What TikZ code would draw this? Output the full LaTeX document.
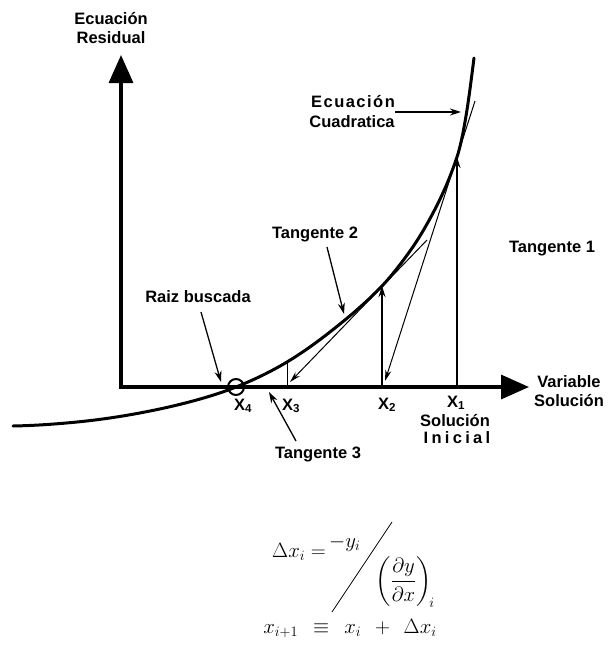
\documentclass[tikz,border=0pt]{standalone}
\usepackage{amsmath}
\usepackage{fontspec}
\newfontfamily\lblfamily{Liberation Sans}
\usetikzlibrary{arrows.meta}
\tikzset{
  lbl/.style={font=\lblfamily\bfseries\fontsize{16.5}{19}\selectfont, inner sep=0pt, anchor=base},
  spaced/.style={font=\lblfamily\bfseries\fontsize{16.5}{19}\selectfont\addfontfeature{LetterSpace=#1}},
  axis/.style={line width=3.2pt, line join=miter, {Triangle[length=28pt,width=24pt]}-{Triangle[length=28pt,width=24pt]}},
  curve/.style={line width=3pt, line cap=round},
  la/.style={line width=1.3pt, -{Stealth[length=11pt,width=7pt]}},
  tan/.style={line width=1pt, -{Stealth[length=11pt,width=6pt]}},
  up/.style={line width=1.3pt, -{Stealth[length=11pt,width=7pt]}},
  fml/.style={font=\fontsize{20.74}{25}\selectfont, inner sep=0pt},
}
\begin{document}
\begin{tikzpicture}[x=1pt,y=-1pt]
\useasboundingbox (0,0) rectangle (608,656);
% key points
\coordinate (O) at (121,387);
\coordinate (ytip) at (121,55);
\coordinate (xtip) at (529,387);
\coordinate (x1) at (457,387);
\coordinate (x2) at (382,387);
\coordinate (x3) at (287,387);
\coordinate (x4) at (236,387);
\coordinate (p1) at (457,157);
\coordinate (p2) at (382,286);
\coordinate (p3) at (287,362);
\coordinate (t1a) at (475,101);
\coordinate (t1b) at (385,381);
\coordinate (t2a) at (427,240);
\coordinate (t2b) at (290,382);
% axes
\draw[axis] (ytip) -- (O) -- (xtip);
% curve
\draw[curve] (13,426)
  .. controls (34.3,425.6) and (55.7,424.1) .. (77,422)
  .. controls (101.3,419.6) and (125.7,415.9) .. (150,411)
  .. controls (169,407.2) and (188,402.7) .. (207,397)
  .. controls (216.7,394.1) and (226.3,390.9) .. (236,387)
  .. controls (253,380.2) and (270,372.2) .. (287,362)
  .. controls (303,352.4) and (319,340.8) .. (335,328)
  .. controls (350.7,315.5) and (366.3,302.4) .. (382,286)
  .. controls (391.3,276.2) and (400.7,264.1) .. (410,251)
  .. controls (417.7,240.3) and (425.3,227.6) .. (433,213)
  .. controls (441,197.8) and (449,181) .. (457,157)
  .. controls (460,148) and (463,134) .. (466,116)
  .. controls (468.7,100) and (471.3,79.3) .. (474,58);
% root circle
\node[draw, circle, line width=2pt, minimum size=16pt, inner sep=0pt] (root) at (x4) {};
% newton steps
\draw[up] (x1) -- (p1);
\draw[tan] (t1a) -- (t1b);
\draw[up] (x2) -- (p2);
\draw[tan] (t2a) -- (t2b);
\draw[line width=1pt] (x3) -- (p3);
% labels
\node[lbl] (er1) at (111,24) {Ecuación};
\node[lbl] (er2) at (111,43) {Residual};
\node[lbl, spaced=9] (eq1) at (353,107) {Ecuación};
\node[lbl] (eq2) at (352,127) {Cuadratica};
\coordinate (eqtip) at (461,112);
\draw[la] (eq1.east |- eqtip) -- (eqtip);
\node[lbl] (t2) at (315,238) {Tangente 2};
\coordinate (t2tip) at (344,314);
\draw[la] ([xshift=12pt,yshift=-9pt]t2.base) -- (t2tip);
\node[lbl] (t1) at (552,252) {Tangente 1};
\node[lbl] (rb) at (198,302) {Raiz buscada};
\coordinate (rbtip) at (221,382);
\draw[la] ([xshift=3pt,yshift=-10pt]rb.base) -- (rbtip);
\node[lbl] (t3) at (318,458) {Tangente 3};
\coordinate (t3tip) at (269,392);
\draw[la] ([xshift=-22pt,yshift=17pt]t3.base) -- (t3tip);
\node[lbl] (lx4) at (243,410) {X\textsubscript{4}};
\node[lbl] (lx3) at (291,410) {X\textsubscript{3}};
\node[lbl] (lx2) at (387,409) {X\textsubscript{2}};
\node[lbl] (lx1) at (456,407) {X\textsubscript{1}};
\node[lbl] (si1) at (455,426) {Solución};
\node[lbl, spaced=20] (si2) at (457,443) {Inicial};
\node[lbl] (vs1) at (569,387) {Variable};
\node[lbl] (vs2) at (569,406) {Solución};
% formula
\node[fml, anchor=base east] (fdl) at (326,557) {$\Delta x_i =$};
\node[fml, anchor=base west] (fnum) at (329,547) {$-y_i$};
\node[fml] (fden) at (405,582) {$\left(\dfrac{\partial y}{\partial x}\right)_{\!i}$};
\coordinate (sl1) at (392,522);
\coordinate (sl2) at (332,612);
\draw[line width=0.8pt] (sl2) -- (sl1);
\node[fml, anchor=base] (fl2) at (350,633) {$x_{i+1} \;\,\equiv\;\, x_i \;\,+\;\, \Delta x_i$};
\end{tikzpicture}
\end{document}
